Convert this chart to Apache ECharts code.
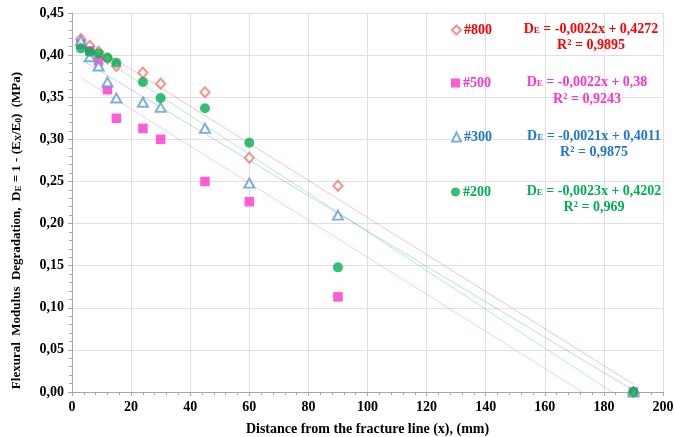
<!DOCTYPE html>
<html>
<head>
<meta charset="utf-8">
<script src="https://cdn.jsdelivr.net/npm/echarts@6/dist/echarts.min.js"></script>
<style>html,body{margin:0;padding:0;background:#fff}#c{width:675px;height:437px}</style>
</head>
<body>
<div id="c"></div>
<script>
// Distances from the fracture line (mm)
var xValues = [3, 6, 9, 12, 15, 24, 30, 45, 60, 90, 190];
// Flexural modulus degradation values per series
var s800 = [0.419, 0.411, 0.404, 0.396, 0.387, 0.379, 0.366, 0.356, 0.278, 0.245, 0.0];
var s500 = [0.413, 0.405, 0.393, 0.359, 0.325, 0.313, 0.300, 0.250, 0.226, 0.113, 0.0];
var s300 = [0.417, 0.398, 0.387, 0.368, 0.349, 0.344, 0.338, 0.313, 0.248, 0.210, 0.0];
var s200 = [0.408, 0.404, 0.402, 0.397, 0.391, 0.368, 0.349, 0.337, 0.296, 0.148, 0.0];
var seriesNames = ['#800', '#500', '#300', '#200'];
// Trendline coefficients shown on the chart
var slopes = [-0.0022, -0.0022, -0.0021, -0.0023];
var intercepts = [0.4272, 0.38, 0.4011, 0.4202];
var eqTexts = ['-0,0022x + 0,4272', '-0,0022x + 0,38', '-0,0021x + 0,4011', '-0,0023x + 0,4202'];
var r2Texts = ['0,9895', '0,9243', '0,9875', '0,969'];
var xTicks = [0, 20, 40, 60, 80, 100, 120, 140, 160, 180, 200];

var allData = [s800, s500, s300, s200];
var markerColors = ['#F4776F', '#FF33CC', '#5B9BD5', '#00B050'];
var textColors = ['#FF0000', '#FF33CC', '#1F78C8', '#00B050'];
var lineColors = ['rgba(244,119,111,0.45)', 'rgba(255,51,204,0.28)', 'rgba(91,155,213,0.4)', 'rgba(0,176,80,0.28)'];
var symbols = ['emptyDiamond', 'rect', 'emptyTriangle', 'circle'];
var symbolSizes = [[9, 10], 9.5, [10, 9], 10];
var serif = '"Liberation Serif", "Times New Roman", serif';

function pairs(ys) { return xValues.map(function (x, i) { return [x, ys[i]]; }); }

var series = [];
seriesNames.forEach(function (n, k) {
  var x0 = xValues[0], x1 = xValues[xValues.length - 1];
  series.push({
    type: 'line', name: n + ' trend', silent: true, symbol: 'none', clip: true,
    lineStyle: { color: lineColors[k], width: 1 }, z: 1,
    data: [[x0, intercepts[k] + slopes[k] * x0], [x1, intercepts[k] + slopes[k] * x1]]
  });
});
seriesNames.forEach(function (n, k) {
  series.push({
    type: 'scatter', name: n, symbol: symbols[k], symbolSize: symbolSizes[k],
    itemStyle: symbols[k].indexOf('empty') === 0 ? { color: markerColors[k], borderColor: markerColors[k], borderWidth: 1.1 } : { color: markerColors[k] },
    z: 3 + k, data: pairs(allData[k])
  });
});

var legendTops = [23, 76, 130, 185];
var legends = seriesNames.map(function (n, k) {
  return {
    data: [n], left: 451, top: legendTops[k], padding: 0, itemWidth: 9, itemHeight: 9, itemGap: 0,
    textStyle: { color: textColors[k], fontFamily: serif, fontWeight: 'bold', fontSize: 14, padding: [0, 0, 0, -2] },
    selectedMode: false
  };
});

var eqCenters = [[591, 29, 45], [587, 82, 99], [594, 136, 152], [594, 191, 207]];
var graphics = [];
eqCenters.forEach(function (c, k) {
  var rich = {
    b: { fontFamily: serif, fontWeight: 'bold', fontSize: 14, fill: textColors[k], color: textColors[k] },
    s: { fontFamily: serif, fontWeight: 'bold', fontSize: 9, fill: textColors[k], color: textColors[k], padding: [4, 0, 0, 0] }
  };
  graphics.push({
    type: 'text', x: c[0], y: c[1], z: 10,
    style: { text: '{b|D}{s|E}{b| = ' + eqTexts[k] + '}', rich: rich, align: 'center', verticalAlign: 'middle', textAlign: 'center', textVerticalAlign: 'middle' }
  });
  graphics.push({
    type: 'text', x: c[0], y: c[2], z: 10,
    style: { text: 'R² = ' + r2Texts[k], fill: textColors[k], font: 'bold 14px ' + serif, align: 'center', verticalAlign: 'middle', textAlign: 'center', textVerticalAlign: 'middle' }
  });
});

var chart = echarts.init(document.getElementById('c'), null, { renderer: 'canvas' });
chart.setOption({
  animation: false,
  backgroundColor: '#fff',
  grid: { left: 72, right: 12, top: 13, bottom: 45, containLabel: false, outerBoundsMode: 'none' },
  legend: legends,
  graphic: graphics,
  xAxis: {
    type: 'value', min: 0, max: 200, interval: 20,
    name: 'Distance from the fracture line (x), (mm)', nameLocation: 'middle', nameGap: 30,
    nameTextStyle: { fontFamily: serif, fontWeight: 'bold', fontSize: 14, color: '#000' },
    axisLine: { show: true, lineStyle: { color: '#A6A6A6' } },
    axisTick: { show: true, length: 4, lineStyle: { color: '#A6A6A6' } },
    minorTick: { show: true, splitNumber: 5, length: 3, lineStyle: { color: '#A6A6A6' } },
    splitLine: { show: true, lineStyle: { color: '#E0E0E0' } },
    axisLabel: { fontFamily: serif, fontWeight: 'bold', fontSize: 14, color: '#000', margin: 8,
      customValues: xTicks, formatter: function (v) { return String(v); } }
  },
  yAxis: {
    type: 'value', min: 0, max: 0.45, interval: 0.05,
    name: '{b|Flexural  Modulus  Degradation,  D}{s|E}{b| = 1 - (E}{s|X}{b|/E}{s|0}{b|)  (MPa)}',
    nameLocation: 'middle', nameGap: 49, nameRotate: 90,
    nameTextStyle: {
      padding: [0, 56, 0, 0],
      rich: {
        b: { fontFamily: serif, fontWeight: 'bold', fontSize: 13, color: '#000' },
        s: { fontFamily: serif, fontWeight: 'bold', fontSize: 9, color: '#000', padding: [4, 0, 0, 0] }
      }
    },
    axisLine: { show: true, lineStyle: { color: '#A6A6A6' } },
    axisTick: { show: true, length: 4, lineStyle: { color: '#A6A6A6' } },
    minorTick: { show: true, splitNumber: 5, length: 3, lineStyle: { color: '#A6A6A6' } },
    splitLine: { show: true, lineStyle: { color: '#E0E0E0' } },
    axisLabel: { fontFamily: serif, fontWeight: 'bold', fontSize: 14, color: '#000', margin: 8,
      formatter: function (v) { return v.toFixed(2).replace('.', ','); } }
  },
  series: series
});
</script>
</body>
</html>
